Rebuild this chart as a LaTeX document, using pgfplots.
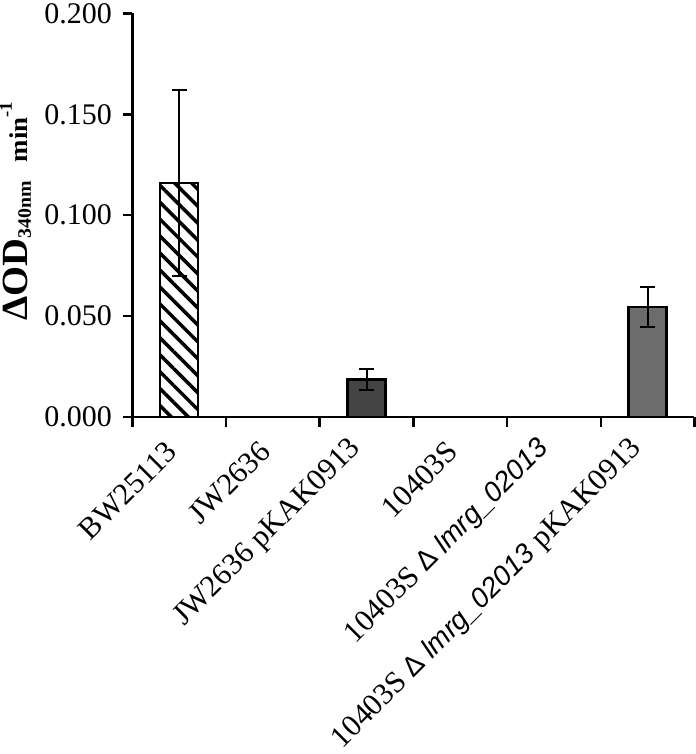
\documentclass[border=0pt]{standalone}
\usepackage{pgfplots}
\pgfplotsset{compat=1.18}
\usepackage{graphicx}
\usepackage{fontspec}
\setmainfont{Liberation Serif}
\setsansfont{Liberation Sans}
\usetikzlibrary{patterns.meta}
\definecolor{darkbar}{RGB}{68,68,68}
\definecolor{midbar}{RGB}{108,108,108}
\newcommand{\lm}{\textsf{\fontsize{28}{33}\selectfont Δ \itshape lmrg\_02013}}
\begin{document}
\begin{tikzpicture}
\begin{axis}[
  scale only axis,
  width=563pt, height=404pt,
  xmin=-0.5, xmax=5.5, ymin=0, ymax=0.2,
  axis x line*=bottom, axis y line*=left,
  axis line style={line width=2.5pt},
  tick align=outside,
  ytick={0,0.05,0.1,0.15,0.2},
  major tick length=9pt,
  minor tick length=10pt,
  every tick/.style={line width=2.5pt, black},
  xtick={0,1,2,3,4,5},
  major x tick style={draw=none},
  minor xtick={-0.5,0.5,1.5,2.5,3.5,4.5,5.5},
  xticklabels={BW25113, JW2636, JW2636 pKAK0913, 10403S, 10403S \lm, 10403S \lm{} pKAK0913},
  xticklabel style={rotate=45, anchor=south east, inner sep=0pt, font=\fontsize{30.5}{35}\selectfont},
  xticklabel shift=28pt,
  yticklabel style={font=\fontsize{30}{36}\selectfont, /pgf/number format/.cd, fixed, fixed zerofill, precision=3},
  /pgf/number format/assume math mode=true,
  yticklabel shift=8pt,
  ylabel={\scalebox{1.17}[1.12]{\bfseries{\fontsize{33}{36}\selectfont ΔOD}\raisebox{-3pt}{\fontsize{17}{20}\selectfont 340nm}\hspace{16pt}{\fontsize{23}{26}\selectfont min}\raisebox{14pt}{\fontsize{16}{18}\selectfont -1}}},
  every axis y label/.style={at={(axis description cs:0,0.5)}, xshift=-105pt, yshift=4pt, rotate=90, anchor=base, inner sep=0pt},
  clip=false,
]
\path (rel axis cs:0,0.5) -- ++(-138pt,0);
\addplot[ybar, bar width=0.405, bar shift=0pt, draw=black, line width=2.5pt,
  pattern={Lines[angle=-45,distance=12pt,line width=3.5pt]},
  error bars/.cd, y dir=both, y explicit,
  error bar style={line width=2pt, black},
  error mark options={rotate=90, mark size=7.5pt, line width=2pt, black}]
  coordinates {(0,0.116) +- (0,0.046)};
\addplot[ybar, bar width=0.405, bar shift=0pt, draw=none, fill=none]
  coordinates {(1,0) (3,0) (4,0)};
\addplot[ybar, bar width=0.405, bar shift=0pt, draw=black, line width=2.5pt, fill=darkbar,
  error bars/.cd, y dir=both, y explicit,
  error bar style={line width=2pt, black},
  error mark options={rotate=90, mark size=7.5pt, line width=2pt, black}]
  coordinates {(2,0.0185) +- (0,0.0052)};
\addplot[ybar, bar width=0.405, bar shift=0pt, draw=black, line width=2.5pt, fill=midbar,
  error bars/.cd, y dir=both, y explicit,
  error bar style={line width=2pt, black},
  error mark options={rotate=90, mark size=7.5pt, line width=2pt, black}]
  coordinates {(5,0.0545) +- (0,0.0099)};
\end{axis}
\end{tikzpicture}
\end{document}
